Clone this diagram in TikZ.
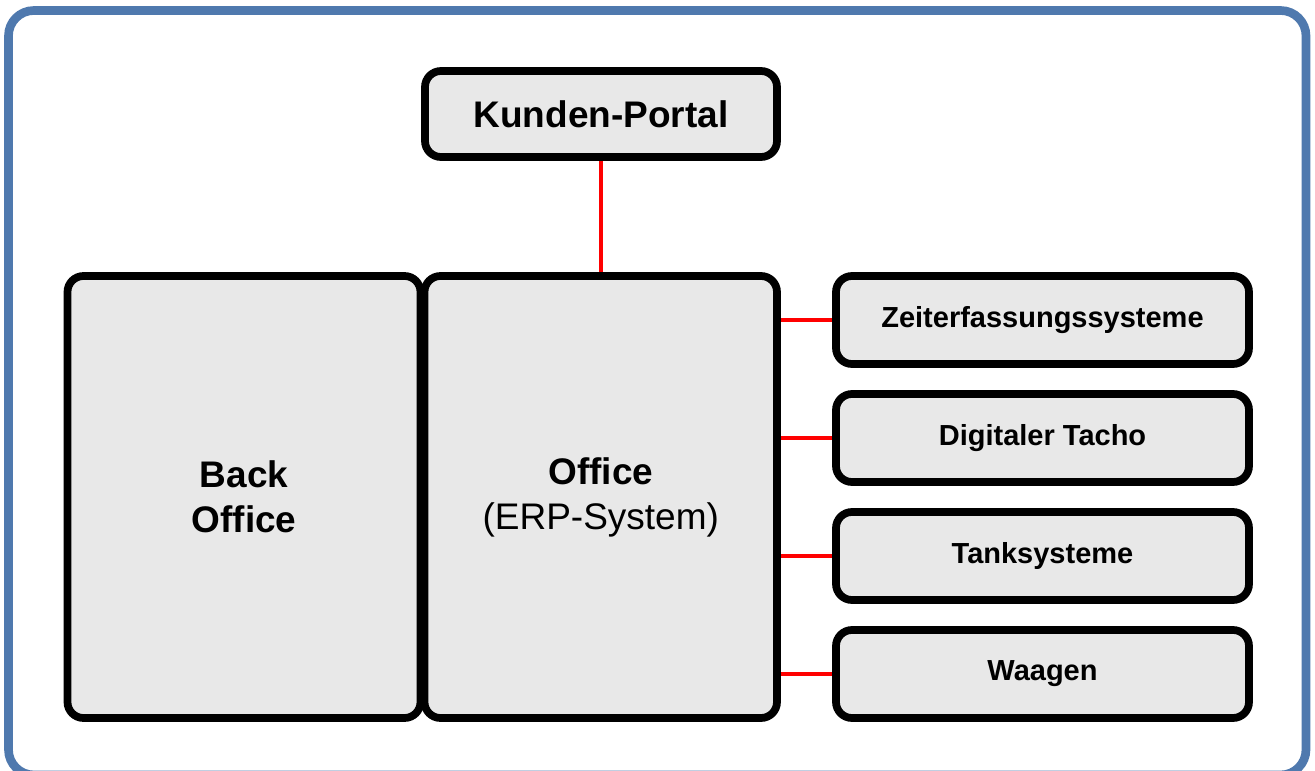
\documentclass[tikz,border=0pt]{standalone}
\usepackage{fontspec}
\setmainfont{Liberation Sans}
\definecolor{frameblue}{RGB}{79,121,174}
\definecolor{boxgray}{RGB}{232,232,232}
\definecolor{linkred}{RGB}{255,0,0}
\begin{document}
\begin{tikzpicture}[x=0.75pt,y=-0.75pt,
  box/.style={draw=black, fill=boxgray, line width=5.8pt, rounded corners=12pt, align=center, inner sep=0pt},
  bigtext/.style={font=\fontsize{27.75pt}{33.75pt}\selectfont},
  smalltext/.style={font=\fontsize{21.75pt}{26pt}\selectfont\bfseries},
  link/.style={draw=linkred, line width=3pt}]
\useasboundingbox (0,0) rectangle (1315,771);
\fill[white] (0,0) rectangle (1315,771);
\draw[frameblue, line width=6.5pt, rounded corners=19pt] (8.5,10.5) rectangle (1306,775);

\node[box, bigtext, minimum width=264pt, minimum height=64.5pt] (kunden) at (601,114) {\bfseries Kunden-Portal};
\node[box, bigtext, minimum width=264.75pt, minimum height=331.5pt] (back) at (244,497) {\bfseries Back\\\bfseries Office};
\node[box, bigtext, minimum width=264.375pt, minimum height=331.5pt] (office) at (600.75,497) {\bfseries Office\\(ERP-System)};
\node[box, smalltext, minimum width=309.75pt, minimum height=66pt] (zeit) at (1042.5,320) {Zeiterfassungssysteme};
\node[box, smalltext, minimum width=309.75pt, minimum height=66pt] (tacho) at (1042.5,438) {Digitaler Tacho};
\node[box, smalltext, minimum width=309.75pt, minimum height=66pt] (tank) at (1042.5,556) {Tanksysteme};
\node[box, smalltext, minimum width=309.75pt, minimum height=66pt] (waagen) at (1042.5,674) {Waagen};

\draw[link] (kunden.south) -- (kunden.south |- office.north);
\draw[link] (zeit.west) -- (zeit.west -| office.east);
\draw[link] (tacho.west) -- (tacho.west -| office.east);
\draw[link] (tank.west) -- (tank.west -| office.east);
\draw[link] (waagen.west) -- (waagen.west -| office.east);
\end{tikzpicture}
\end{document}
